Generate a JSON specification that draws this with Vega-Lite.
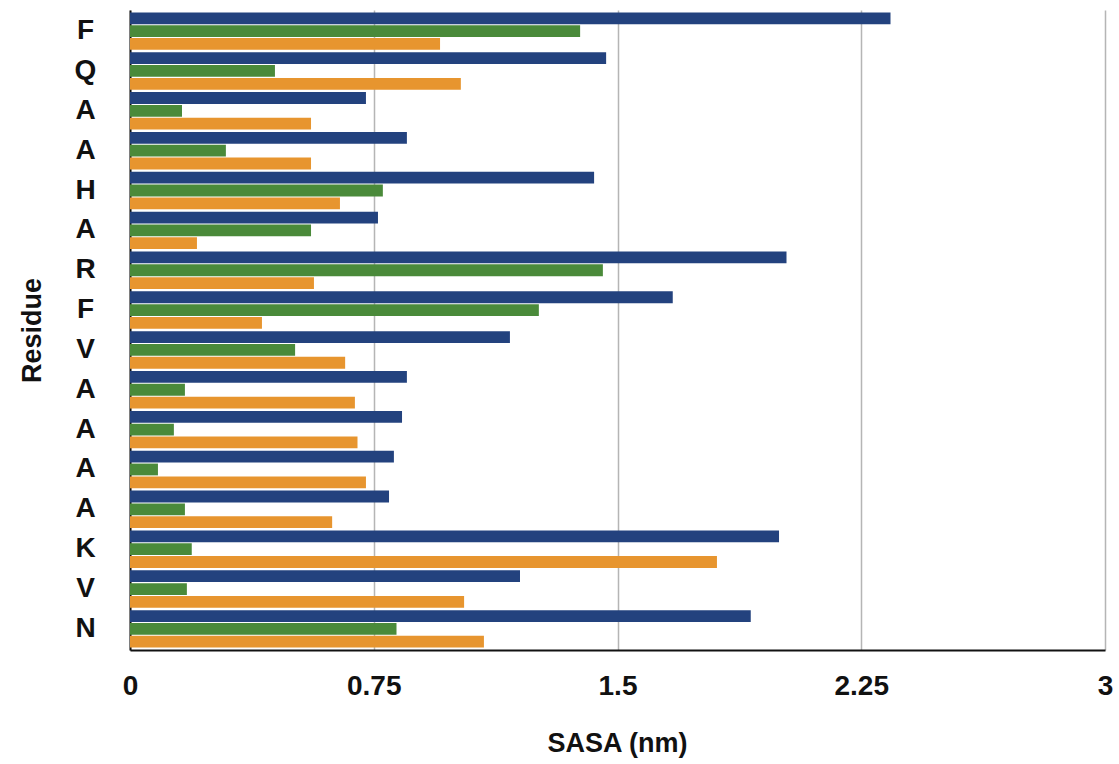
{
  "$schema": "https://vega.github.io/schema/vega-lite/v6.json",
  "width": 975,
  "height": 640,
  "autosize": {"type": "none"},
  "padding": {"left": 130, "top": 10, "right": 14, "bottom": 114},
  "background": "white",
  "config": {
    "view": {"stroke": null},
    "font": "Liberation Sans"
  },
  "data": {
    "values": [
      {"id": "01 F", "series": "s1", "sasa": 2.34},
      {"id": "01 F", "series": "s2", "sasa": 1.385},
      {"id": "01 F", "series": "s3", "sasa": 0.954},
      {"id": "02 Q", "series": "s1", "sasa": 1.465},
      {"id": "02 Q", "series": "s2", "sasa": 0.446},
      {"id": "02 Q", "series": "s3", "sasa": 1.018},
      {"id": "03 A", "series": "s1", "sasa": 0.726},
      {"id": "03 A", "series": "s2", "sasa": 0.16},
      {"id": "03 A", "series": "s3", "sasa": 0.557},
      {"id": "04 A", "series": "s1", "sasa": 0.852},
      {"id": "04 A", "series": "s2", "sasa": 0.295},
      {"id": "04 A", "series": "s3", "sasa": 0.557},
      {"id": "05 H", "series": "s1", "sasa": 1.428},
      {"id": "05 H", "series": "s2", "sasa": 0.778},
      {"id": "05 H", "series": "s3", "sasa": 0.646},
      {"id": "06 A", "series": "s1", "sasa": 0.763},
      {"id": "06 A", "series": "s2", "sasa": 0.557},
      {"id": "06 A", "series": "s3", "sasa": 0.206},
      {"id": "07 R", "series": "s1", "sasa": 2.02},
      {"id": "07 R", "series": "s2", "sasa": 1.455},
      {"id": "07 R", "series": "s3", "sasa": 0.566},
      {"id": "08 F", "series": "s1", "sasa": 1.67},
      {"id": "08 F", "series": "s2", "sasa": 1.258},
      {"id": "08 F", "series": "s3", "sasa": 0.406},
      {"id": "09 V", "series": "s1", "sasa": 1.169},
      {"id": "09 V", "series": "s2", "sasa": 0.508},
      {"id": "09 V", "series": "s3", "sasa": 0.662},
      {"id": "10 A", "series": "s1", "sasa": 0.852},
      {"id": "10 A", "series": "s2", "sasa": 0.169},
      {"id": "10 A", "series": "s3", "sasa": 0.692},
      {"id": "11 A", "series": "s1", "sasa": 0.837},
      {"id": "11 A", "series": "s2", "sasa": 0.135},
      {"id": "11 A", "series": "s3", "sasa": 0.70},
      {"id": "12 A", "series": "s1", "sasa": 0.812},
      {"id": "12 A", "series": "s2", "sasa": 0.086},
      {"id": "12 A", "series": "s3", "sasa": 0.726},
      {"id": "13 A", "series": "s1", "sasa": 0.797},
      {"id": "13 A", "series": "s2", "sasa": 0.169},
      {"id": "13 A", "series": "s3", "sasa": 0.622},
      {"id": "14 K", "series": "s1", "sasa": 1.997},
      {"id": "14 K", "series": "s2", "sasa": 0.19},
      {"id": "14 K", "series": "s3", "sasa": 1.806},
      {"id": "15 V", "series": "s1", "sasa": 1.2},
      {"id": "15 V", "series": "s2", "sasa": 0.175},
      {"id": "15 V", "series": "s3", "sasa": 1.028},
      {"id": "16 N", "series": "s1", "sasa": 1.91},
      {"id": "16 N", "series": "s2", "sasa": 0.82},
      {"id": "16 N", "series": "s3", "sasa": 1.089}
    ]
  },
  "mark": {"type": "bar"},
  "encoding": {
    "y": {
      "field": "id",
      "type": "nominal",
      "sort": "ascending",
      "scale": {"paddingInner": 0.06, "paddingOuter": 0.06},
      "axis": {
        "title": "Residue",
        "labelExpr": "slice(datum.value, 3)",
        "labelFont": "Liberation Sans",
        "labelFontWeight": "bold",
        "labelFontSize": 28,
        "labelColor": "#111111",
        "labelAlign": "center",
        "labelBaseline": "middle",
        "labelPadding": 45,
        "ticks": false,
        "tickSize": 0,
        "domainColor": "#111111",
        "domainWidth": 2,
        "titleFont": "Liberation Sans",
        "titleFontWeight": "bold",
        "titleFontSize": 27,
        "titleColor": "#111111",
        "titleX": -98,
        "titleY": 320,
        "titleAngle": -90,
        "titleAlign": "center",
        "titleBaseline": "middle"
      }
    },
    "yOffset": {
      "field": "series",
      "type": "nominal",
      "sort": ["s1", "s2", "s3"],
      "scale": {"paddingInner": 0.08}
    },
    "x": {
      "field": "sasa",
      "type": "quantitative",
      "scale": {"domain": [0, 3], "nice": false},
      "axis": {
        "title": "SASA (nm)",
        "values": [0, 0.75, 1.5, 2.25, 3],
        "labelExpr": "toString(datum.value)",
        "grid": true,
        "gridColor": "#b5b5b5",
        "gridWidth": 1.5,
        "ticks": false,
        "tickSize": 0,
        "domainColor": "#111111",
        "domainWidth": 2,
        "labelFont": "Liberation Sans",
        "labelFontWeight": "bold",
        "labelFontSize": 28,
        "labelColor": "#111111",
        "labelBaseline": "middle",
        "labelPadding": 36,
        "labelFlush": false,
        "labelOverlap": false,
        "titleFont": "Liberation Sans",
        "titleFontWeight": "bold",
        "titleFontSize": 27,
        "titleColor": "#111111",
        "titleY": 93,
        "titleX": 487,
        "titleBaseline": "middle"
      }
    },
    "color": {
      "field": "series",
      "type": "nominal",
      "scale": {"domain": ["s1", "s2", "s3"], "range": ["#23427e", "#4a8a3a", "#e7952f"]},
      "legend": null
    }
  }
}
